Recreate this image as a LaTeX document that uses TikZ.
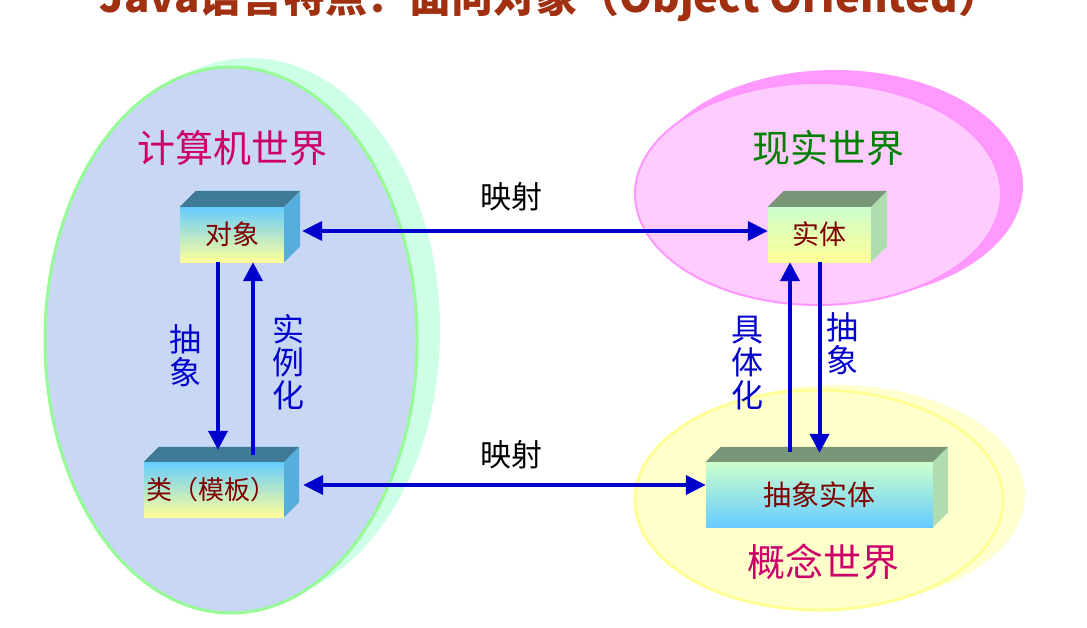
\documentclass[tikz,border=0pt]{standalone}
\usepackage{fontspec}
\setmainfont{Noto Sans CJK SC}
\usetikzlibrary{arrows.meta,calc}

\definecolor{titlered}{RGB}{160,48,16}
\definecolor{compfill}{RGB}{200,216,244}
\definecolor{compline}{RGB}{150,250,150}
\definecolor{compshadow}{RGB}{204,255,229}
\definecolor{realfill}{RGB}{255,204,255}
\definecolor{realline}{RGB}{255,150,255}
\definecolor{realshadow}{RGB}{255,153,255}
\definecolor{ideafill}{RGB}{255,255,204}
\definecolor{idealine}{RGB}{255,255,150}
\definecolor{ideashadow}{RGB}{255,255,208}
\definecolor{bluefront}{RGB}{102,204,255}
\definecolor{yellowfront}{RGB}{255,255,153}
\definecolor{greenfront}{RGB}{204,255,204}
\definecolor{bluetop}{RGB}{63,122,150}
\definecolor{blueside}{RGB}{85,174,219}
\definecolor{greentop}{RGB}{122,150,120}
\definecolor{greenside}{RGB}{176,221,176}
\definecolor{boxtext}{RGB}{128,0,0}
\definecolor{arrowblue}{RGB}{0,0,204}
\definecolor{crimson}{RGB}{204,0,102}
\definecolor{realgreen}{RGB}{0,128,0}

\begin{document}
\begin{tikzpicture}[x=1pt, y=-1pt,
    title/.style={font=\fontsize{42}{44}\selectfont\bfseries, text=titlered},
    world/.style={font=\fontsize{38}{40}\selectfont},
    face/.style={minimum height=55pt, inner sep=0pt, font=\fontsize{27}{29}\selectfont, text=boxtext},
    bluebox/.style={face, top color=bluefront, bottom color=yellowfront},
    greenbox/.style={face, top color=greenfront, bottom color=yellowfront},
    act/.style={text=arrowblue, align=center, font=\fontsize{32}{33}\selectfont},
    maplabel/.style={font=\fontsize{31}{33}\selectfont},
    map/.style={line width=4pt, draw=arrowblue, {Triangle[length=20pt,width=19pt]}-{Triangle[length=20pt,width=19pt]}},
    conn/.style={line width=4pt, draw=arrowblue, -{Triangle[length=19pt,width=19pt]}}
]
    \useasboundingbox (0,0) rectangle (1087,627);
    \fill[white] (0,0) rectangle (1087,627);

    % title, cut at the top
    \node[title, anchor=base] (title) at (550,12) {Java语言特点：面向对象（Object Oriented）};

    % the three worlds
    \fill[compshadow] (250,330) ellipse [x radius=190, y radius=272];
    \draw[draw=compline, fill=compfill, line width=3pt] (231,340) ellipse [x radius=186, y radius=273];
    \fill[realshadow] (835,185) ellipse [x radius=188, y radius=115];
    \draw[draw=realline, fill=realfill, line width=2pt] (818,194) ellipse [x radius=183, y radius=111];
    \fill[ideashadow] (836,495) ellipse [x radius=189, y radius=110];
    \draw[draw=idealine, fill=ideafill, line width=3pt] (819,500) ellipse [x radius=184, y radius=110];

    \node[world, text=crimson] (compname) at (232,148) {计算机世界};
    \node[world, text=realgreen] (realname) at (828,148) {现实世界};
    \node[world, text=crimson] (ideaname) at (823,562) {概念世界};

    % boxes
    \node[bluebox, minimum width=104pt] (obj) at (232,234.5) {对象};
    \node[bluebox, minimum width=140pt, font=\fontsize{26}{28}\selectfont] (cls) at (214,489.5)
        {\makebox[136pt][l]{类（模板）}};
    \node[greenbox, minimum width=103pt] (ent) at (819.5,234.5) {实体};
    \node[face, top color=greenfront, bottom color=bluefront, minimum width=227pt, minimum height=65pt,
          font=\fontsize{28}{30}\selectfont] (abs) at (819.5,494.5) {抽象实体};

    \foreach \b/\t/\s/\d in {obj/bluetop/blueside/16, cls/bluetop/blueside/15,
                             ent/greentop/greenside/16, abs/greentop/greenside/15} {
        \fill[\t] (\b.north west) -- ++(\d,-\d) -- ($(\b.north east)+(\d,-\d)$) -- (\b.north east) -- cycle;
        \fill[\s] (\b.north east) -- ++(\d,-\d) -- ($(\b.south east)+(\d,-\d)$) -- (\b.south east) -- cycle;
    }

    % mappings
    \coordinate (m1) at ($(obj.east)+(18,-3.5)$);
    \draw[map] (m1) -- (m1 -| ent.west);
    \coordinate (m2) at ($(cls.east)+(19,-4.5)$);
    \draw[map] (m2) -- (m2 -| abs.west);
    \node[maplabel] (map1) at (511,197) {映射};
    \node[maplabel] (map2) at (511,455) {映射};

    % abstraction and instantiation
    \draw[conn] ($(obj.south)+(-14,0)$) -- ($(cls.north)+(4,-12)$);
    \draw[conn] ($(cls.north)+(39,-7)$) -- ($(obj.south)+(21,0)$);
    \draw[conn] ($(abs.north)+(-29.5,-10)$) -- ($(ent.south)+(-29.5,0)$);
    \draw[conn] (ent.south) -- ($(abs.north)+(0,-9)$);

    \node[act] (abs1) at (185,356) {抽\\象};
    \node[act] (inst) at (288,362) {实\\例\\化};
    \node[act] (concr) at (747,363) {具\\体\\化};
    \node[act] (abs2) at (842,344) {抽\\象};
\end{tikzpicture}
\end{document}
